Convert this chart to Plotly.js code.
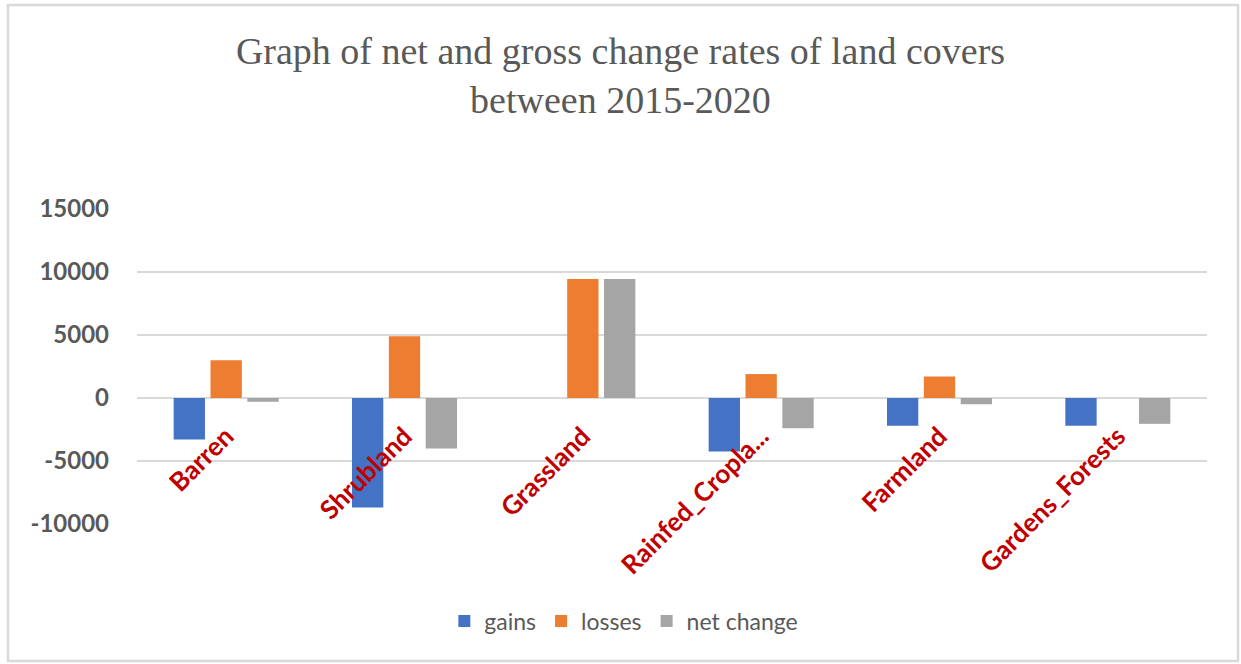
<!DOCTYPE html>
<html>
<head>
<meta charset="utf-8">
<script src="https://cdn.plot.ly/plotly-3.0.1.min.js"></script>
<style>
  html, body { margin: 0; padding: 0; background: #ffffff; }
  #chart { width: 1241px; height: 664px; }
</style>
</head>
<body>
<div id="chart"></div>
<script>
// Categories (as displayed on the chart)
var categories = ["Barren", "Shrubland", "Grassland", "Rainfed_Cropla...", "Farmland", "Gardens_Forests"];

// Series values
var gains      = [-3300, -8700,    0, -4250, -2200, -2200];
var losses     = [ 3000,  4900, 9450,  1900,  1700,    0];
var netChange  = [ -300, -4000, 9450, -2400,  -500, -2050];

var yTickVals  = [-10000, -5000, 0, 5000, 10000, 15000];
var yTickText  = ["-10000", "-5000", "0", "5000", "10000", "15000"];

var seriesNames = ["gains", "losses", "net change"];
var seriesColors = ["#4472C4", "#ED7D31", "#A5A5A5"];

var traces = [gains, losses, netChange].map(function (vals, i) {
  return {
    type: "bar",
    name: seriesNames[i],
    x: categories,
    y: vals,
    marker: { color: seriesColors[i] },
    hoverinfo: "x+y+name"
  };
});

var L = 137, R = 34, T = 209, B = 140;
var W = 1241, H = 664;
var pw = W - L - R, ph = H - T - B;
function px2x(px) { return (px - L) / pw; }
function py2y(py) { return (H - B - py) / ph; }

var layout = {
  width: W,
  height: H,
  margin: { l: L, r: R, t: T, b: B, pad: 0 },
  paper_bgcolor: "#ffffff",
  plot_bgcolor: "#ffffff",
  barmode: "group",
  bargap: 0.38,
  bargroupgap: 0.15,
  showlegend: true,
  title: {
    text: "Graph of net and gross change rates of land covers<br>between 2015-2020",
    font: { family: "Liberation Serif, Times New Roman, serif", size: 38, color: "#595959" },
    x: 0.5,
    xanchor: "center",
    xref: "container",
    y: 1 - 64 / 664,
    yanchor: "middle",
    yref: "container"
  },
  font: { family: "Lato, Carlito, Calibri, sans-serif", color: "#595959" },
  xaxis: {
    type: "category",
    anchor: "free",
    position: 0.4,
    showline: false,
    showgrid: false,
    zeroline: false,
    ticks: "",
    tickangle: -45,
    ticklabelstandoff: 17,
    ticklabelshift: 0,
    tickfont: { family: "Lato, Carlito, Calibri, sans-serif", size: 26, color: "#C00000", weight: "bold" }
  },
  yaxis: {
    range: [-10000, 15000],
    tickvals: yTickVals,
    ticktext: yTickText,
    showgrid: true,
    gridcolor: "#D9D9D9",
    gridwidth: 1.5,
    zeroline: true,
    zerolinecolor: "#D9D9D9",
    zerolinewidth: 1.5,
    showline: false,
    ticks: "",
    ticklabelstandoff: 27,
    tickfont: { family: "Lato, Carlito, Calibri, sans-serif", size: 24, color: "#595959", weight: "bold" }
  },
  legend: {
    orientation: "h",
    x: 0.455,
    xanchor: "center",
    y: py2y(621),
    yanchor: "middle",
    font: { family: "Lato, Carlito, Calibri, sans-serif", size: 23, color: "#595959" },
    itemwidth: 30,
    traceorder: "normal"
  },
  shapes: [
    {
      type: "rect",
      xref: "paper", yref: "paper",
      x0: px2x(8), x1: px2x(1238),
      y0: py2y(661), y1: py2y(5),
      line: { color: "#D9D9D9", width: 2.5 },
      fillcolor: "rgba(0,0,0,0)",
      layer: "below"
    }
  ]
};

Plotly.newPlot("chart", traces, layout, { displayModeBar: false, staticPlot: true });
</script>
</body>
</html>
